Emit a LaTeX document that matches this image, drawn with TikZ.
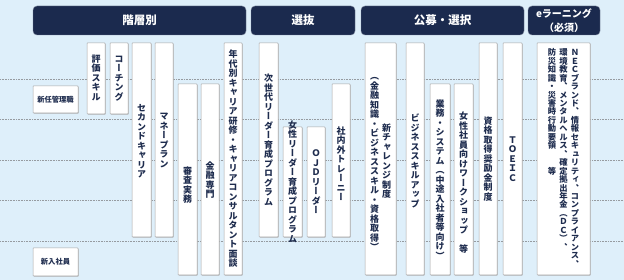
\documentclass[tikz,border=0pt]{standalone}
\usepackage{fontspec}
\usetikzlibrary{shadows}
\newfontfamily\jp{Noto Sans CJK JP}
\newfontfamily\vjp[RawFeature=+vert]{Noto Sans CJK JP}
\definecolor{bgblue}{RGB}{222,239,250}
\definecolor{navy}{RGB}{27,42,78}
\definecolor{txtnavy}{RGB}{30,44,78}
\definecolor{dotgray}{RGB}{150,155,160}
\ExplSyntaxOn
\NewDocumentCommand\vt{O{9.5pt}m}{
  \vbox{
    \baselineskip=#1\relax
    \lineskiplimit=-\maxdimen
    \lineskip=0pt
    \tl_map_inline:nn {#2}{\hbox_to_wd:nn{1em}{\hss\vrule~height~.88em~depth~.12em~width~0pt\relax ##1\hss}}
  }
}
\ExplSyntaxOff
\tikzset{
  bar/.style={draw=black!35, fill=white, line width=0.5pt, inner sep=0pt, outer sep=0pt,
    anchor=north west, rounded corners=0.6pt,
    drop shadow={shadow xshift=0.6pt, shadow yshift=-0.6pt, opacity=1, fill=black!30}},
  hdr/.style={fill=navy, draw=navy!60!white, line width=0.4pt, rounded corners=4pt, inner sep=0pt,
    outer sep=0pt, anchor=north west, text=white, align=center},
  hfont/.style={font=\jp\bfseries\fontsize{11.5}{12}\selectfont},
  hfontsmall/.style={font=\jp\bfseries\fontsize{10}{13.5}\selectfont},
  vtx/.style={inner sep=0pt, outer sep=0pt, text=txtnavy, font=\vjp\bfseries\fontsize{9}{9}\selectfont},
  vte/.style={inner sep=0pt, outer sep=0pt, text=txtnavy, anchor=north, font=\vjp\bfseries\fontsize{8.3}{8.3}\selectfont},
  lbl/.style={text=txtnavy, font=\jp\bfseries\fontsize{7.3}{8}\selectfont},
  dotline/.style={draw=dotgray, line width=0.6pt, dash pattern=on 0.8pt off 0.8pt},
}
\newcommand\barbox[5]{\node[bar, minimum width={(#3-#2)*1pt}, minimum height={(#5-#4)*1pt}] (#1) at (#2,#4) {};}
\newcommand\hdrbox[7]{\node[hdr, #7, minimum width={(#3-#2)*1pt}, minimum height={(#5-#4)*1pt}] (#1) at (#2,#4) {#6};}
\begin{document}
\begin{tikzpicture}[x=1pt,y=-1pt]
\fill[bgblue] (0,0) rectangle (624,280);
\useasboundingbox (0,0) rectangle (624,280);
% dotted guide lines
\foreach \yy in {79,119.5,160,200.5,241}{\draw[dotline] (0,\yy) -- (624,\yy);}
% headers
\hdrbox{h1}{33}{246}{6}{35}{階層別}{hfont}
\hdrbox{h2}{251}{355}{6}{35}{選抜}{hfont}
\hdrbox{h3}{361}{524}{6}{35}{公募・選択}{hfont}
\hdrbox{h4}{528}{600}{6}{35}{eラーニング\\（必須）}{hfontsmall}
% left labels
\barbox{b0a}{33}{78}{86}{113}
\node[lbl] (l0a) at (b0a.center) {新任管理職};
\barbox{b0b}{33}{78}{248}{276}
\node[lbl] (l0b) at (b0b.center) {新入社員};
% bars
\barbox{b1}{87}{105}{43}{114}
\barbox{b2}{110}{128}{43}{114}
\barbox{b3}{132}{151}{43}{237}
\barbox{b4}{155}{173}{43}{237}
\barbox{b5}{178}{197}{84}{275}
\barbox{b6}{201}{219}{84}{275}
\barbox{b7}{224}{242}{43}{275}
\barbox{b8}{259}{278}{43}{237}
\barbox{b9}{283}{302}{127}{237}
\barbox{b10}{307}{325}{127}{237}
\barbox{b11}{332}{350}{84}{237}
\barbox{b12}{365}{396}{43}{275}
\barbox{b13}{406}{424}{43}{275}
\barbox{b14}{430}{450}{84}{275}
\barbox{b15}{454}{473}{84}{275}
\barbox{b16}{479}{497}{43}{275}
\barbox{b17}{503}{522}{43}{275}
\barbox{b18}{537}{590}{43}{275}
% vertical texts
\node[vtx] (t1) at (96,78) {\vt{評価スキル}};
\node[vtx] (t2) at (119,78) {\vt{コーチング}};
\node[vtx] (t3) at (141.5,141) {\vt{セカンドキャリア}};
\node[vtx] (t4) at (164,140) {\vt{マネープラン}};
\node[vtx] (t5) at (187.5,185) {\vt{審査実務}};
\node[vtx] (t6) at (210,180) {\vt{金融専門}};
\node[vtx] (t7) at (233,159) {\vt{年代別キャリア研修・キャリアコンサルタント面談}};
\node[vtx] (t8) at (268.5,140) {\vt{次世代リーダー育成プログラム}};
\node[vtx] (t9) at (292.5,182) {\vt{女性リーダー育成プログラム}};
\node[vtx] (t10) at (316,182) {\vt{ＯＪＤリーダー}};
\node[vtx] (t11) at (341,164) {\vt{社内外トレーニー}};
\node[vtx] (t12a) at (386.5,161) {\vt{新チャレンジ制度}};
\node[vtx] (t12b) at (374.5,162) {\vt{（金融知識・ビジネススキル・資格取得）}};
\node[vtx] (t13) at (415,161) {\vt{ビジネススキルアップ}};
\node[vtx] (t14) at (440,180) {\vt{業務・システム（中途入社者等向け）}};
\node[vtx] (t15) at (463.5,183) {\vt{女性社員向けワークショップ　等}};
\node[vtx] (t16) at (488,159) {\vt{資格取得奨励金制度}};
\node[vtx] (t17) at (512.5,159) {\vt{ＴＯＥＩＣ}};
\node[vte] (t18a) at (575,48.5) {\vt[8.45pt]{ＮＥＣブランド、情報セキュリティ、コンプライアンス、}};
\node[vte] (t18b) at (563.5,48.5) {\vt[8.45pt]{環境教育、メンタルヘルス、確定拠出年金（ＤＣ）、}};
\node[vte] (t18c) at (552,48.5) {\vt[8.45pt]{防災知識・災害時行動要領　　等}};
\end{tikzpicture}
\end{document}
